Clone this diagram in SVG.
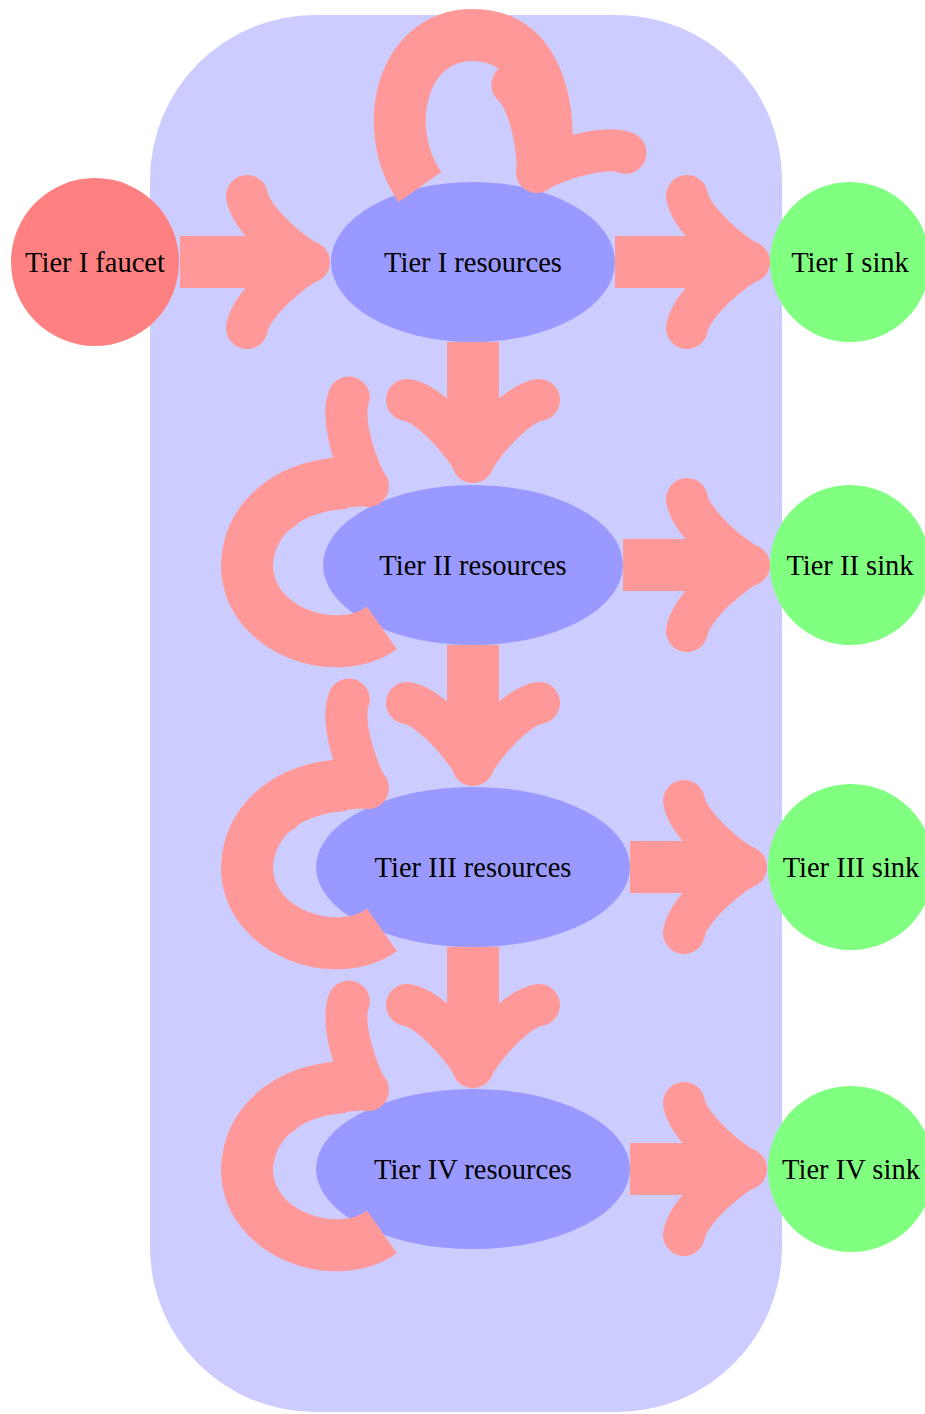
<svg xmlns="http://www.w3.org/2000/svg" xmlns:xlink="http://www.w3.org/1999/xlink" width="925" height="1414" viewBox="0 0 925 1414">
<style>
.lbl{font-family:"Liberation Serif","Times New Roman",serif;font-size:28.5px;fill:#000;text-anchor:middle}
.res{fill:#9999ff}
.sink{fill:#80ff80}
.faucet{fill:#ff8080}
.shaft{fill:none;stroke:#ff9999;stroke-width:52;stroke-linecap:butt}
.head{fill:none;stroke:#ff9999;stroke-width:42;stroke-linecap:round;stroke-linejoin:round}
</style>
<defs>
<path id="head" class="head" d="M -62,-66 C -58,-41 -12,-4 0,0 C -12,4 -58,41 -62,66"/>
</defs>
<rect id="background" x="150" y="15" width="632" height="1397" rx="165" ry="165" fill="#ccccff"/>
<g id="faucet1"><circle class="faucet" cx="95" cy="262" r="84"/><text class="lbl" x="95" y="271.5">Tier I faucet</text></g>
<g id="res1"><ellipse class="res" cx="473" cy="262" rx="142" ry="80"/><text class="lbl" x="473" y="271.5">Tier I resources</text></g>
<g id="res2"><ellipse class="res" cx="473" cy="565" rx="150" ry="80"/><text class="lbl" x="473" y="574.5">Tier II resources</text></g>
<g id="res3"><ellipse class="res" cx="473" cy="867" rx="157" ry="80"/><text class="lbl" x="473" y="876.5">Tier III resources</text></g>
<g id="res4"><ellipse class="res" cx="473" cy="1169" rx="157" ry="80"/><text class="lbl" x="473" y="1178.5">Tier IV resources</text></g>
<g id="sink1"><circle class="sink" cx="850" cy="262" r="80"/><text class="lbl" x="850" y="271.5">Tier I sink</text></g>
<g id="sink2"><circle class="sink" cx="850" cy="565" r="80"/><text class="lbl" x="850" y="574.5">Tier II sink</text></g>
<g id="sink3"><circle class="sink" cx="851" cy="867" r="83"/><text class="lbl" x="851" y="876.5">Tier III sink</text></g>
<g id="sink4"><circle class="sink" cx="851" cy="1169" r="83"/><text class="lbl" x="851" y="1178.5">Tier IV sink</text></g>
<g id="connectors">
<path class="shaft" d="M 180,262 H 289"/><use xlink:href="#head" href="#head" transform="translate(309,262)"/>
<path class="shaft" d="M 615,262 H 729"/><use xlink:href="#head" href="#head" transform="translate(749,262)"/>
<path class="shaft" d="M 473,342 V 442"/><use xlink:href="#head" href="#head" transform="translate(473,462) rotate(90)"/>
<path class="shaft" d="M 623,565 H 729"/><use xlink:href="#head" href="#head" transform="translate(749,565)"/>
<path class="shaft" d="M 473,645 V 745"/><use xlink:href="#head" href="#head" transform="translate(473,765) rotate(90)"/>
<path class="shaft" d="M 630,867 H 726"/><use xlink:href="#head" href="#head" transform="translate(746,867)"/>
<path class="shaft" d="M 473,947 V 1047"/><use xlink:href="#head" href="#head" transform="translate(473,1067) rotate(90)"/>
<path class="shaft" d="M 630,1169 H 726"/><use xlink:href="#head" href="#head" transform="translate(746,1169)"/>
<g id="loop1"><path class="shaft" d="M 420,187 C 380,130 400,35 473,35 C 540,35 550,110 546,160"/><use xlink:href="#head" href="#head" transform="translate(537,172) rotate(121)"/></g>
<g id="loop2" transform="translate(0,565)"><path class="shaft" d="M 382,63 C 335,96 247,65 247,0 C 249,-45 285,-79 345,-82"/><use xlink:href="#head" href="#head" transform="translate(368,-79) rotate(31)"/></g>
<g id="loop3" transform="translate(0,867)"><path class="shaft" d="M 382,63 C 335,96 247,65 247,0 C 249,-45 285,-79 345,-82"/><use xlink:href="#head" href="#head" transform="translate(368,-79) rotate(31)"/></g>
<g id="loop4" transform="translate(0,1169)"><path class="shaft" d="M 382,63 C 335,96 247,65 247,0 C 249,-45 285,-79 345,-82"/><use xlink:href="#head" href="#head" transform="translate(368,-79) rotate(31)"/></g>
</g>
</svg>
